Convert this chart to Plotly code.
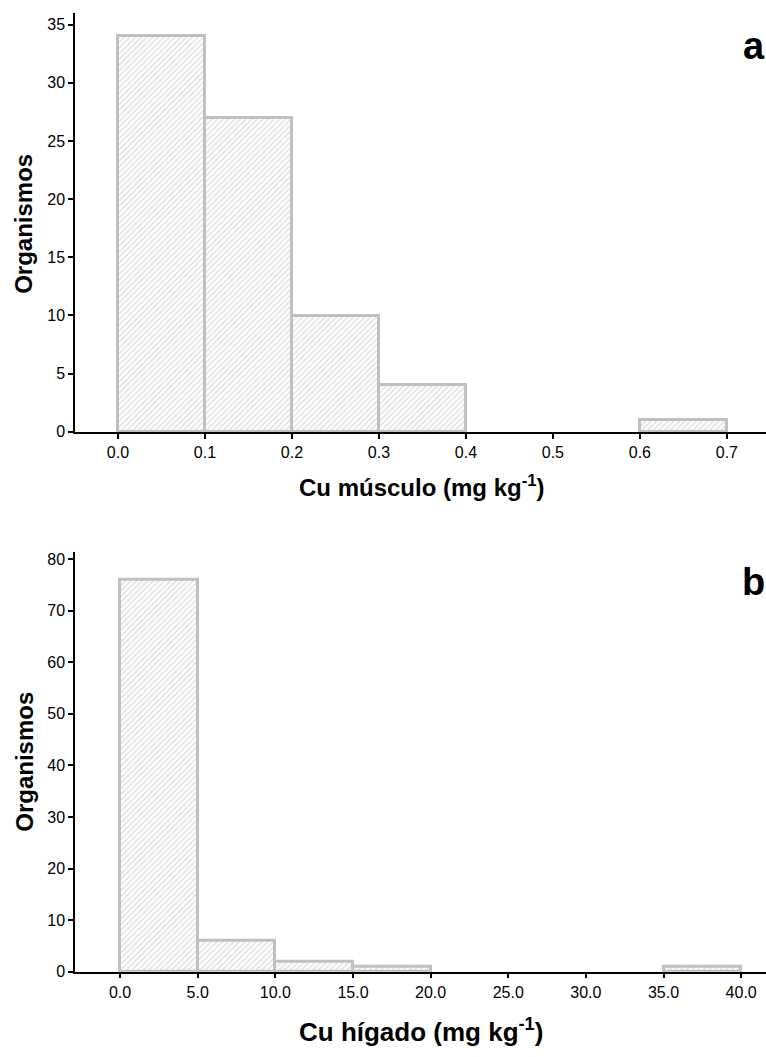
import plotly.graph_objects as go

# Panel a: Cu músculo
musc_bins = [0.0, 0.1, 0.2, 0.3, 0.4, 0.5, 0.6]
musc_counts = [34, 27, 10, 4, 0, 0, 1]
musc_width = 0.1
musc_ticks = [0.0, 0.1, 0.2, 0.3, 0.4, 0.5, 0.6, 0.7]

# Panel b: Cu hígado
hig_bins = [0, 5, 10, 15, 20, 25, 30, 35]
hig_counts = [76, 6, 2, 1, 0, 0, 0, 1]
hig_width = 5
hig_ticks = [0, 5, 10, 15, 20, 25, 30, 35, 40]

W, H = 766, 1057
FONT = "Liberation Sans, Arial, sans-serif"
fig = go.Figure()


def bar_marker(counts):
    return dict(color="white",
                line=dict(color="#c0c0c0", width=[3 if c > 0 else 0 for c in counts]),
                pattern=dict(shape="/", fgcolor="#bdbdbd", bgcolor="white", size=4, solidity=0.35))


fig.add_trace(go.Bar(x=[b + musc_width / 2 for b in musc_bins], y=musc_counts,
                     width=musc_width, xaxis="x", yaxis="y", marker=bar_marker(musc_counts),
                     showlegend=False, hoverinfo="skip"))
fig.add_trace(go.Bar(x=[b + hig_width / 2 for b in hig_bins], y=hig_counts,
                     width=hig_width, xaxis="x2", yaxis="y2", marker=bar_marker(hig_counts),
                     showlegend=False, hoverinfo="skip"))

ax_common = dict(showgrid=False, zeroline=False, showline=True, linecolor="black", linewidth=1.5,
                 ticks="outside", ticklen=5, tickwidth=1.5, tickcolor="black",
                 tickfont=dict(family=FONT, size=16, color="black"))

x0 = 75 / W
fig.update_layout(
    width=W, height=H, margin=dict(l=0, r=0, t=0, b=0),
    paper_bgcolor="white", plot_bgcolor="white", bargap=0,
    xaxis=dict(domain=[x0, 1], range=[-0.0494, 0.745], tickvals=musc_ticks,
               ticktext=[f"{v:.1f}" for v in musc_ticks], anchor="y", **ax_common),
    yaxis=dict(domain=[(H - 435) / H, (H - 12) / H], range=[0, 36.0],
               tickvals=[0, 5, 10, 15, 20, 25, 30, 35], anchor="x", **ax_common),
    xaxis2=dict(domain=[x0, 1], range=[-2.9, 41.6], tickvals=hig_ticks,
                ticktext=[f"{v:.1f}" for v in hig_ticks], anchor="y2", **ax_common),
    yaxis2=dict(domain=[(H - 980) / H, (H - 556) / H], range=[0, 81.4],
                tickvals=[0, 10, 20, 30, 40, 50, 60, 70, 80], anchor="x2", **ax_common),
)


def ann(text, x, y, size, angle=0, xanchor="center"):
    fig.add_annotation(text=text, x=x / W, y=1 - y / H, xref="paper", yref="paper",
                       showarrow=False, textangle=angle, xanchor=xanchor, yanchor="middle",
                       borderpad=0, font=dict(family=FONT, size=size, color="black"))


ann("<b>Organismos</b>", 24, 225, 24, -90)
ann("<b>Organismos</b>", 25, 768, 24, -90)
ann("<b>Cu músculo (mg kg<sup>-1</sup>)</b>", 422, 490, 24)
ann("<b>Cu hígado (mg kg<sup>-1</sup>)</b>", 421, 1039, 26)
ann("<b>a</b>", W, 45, 38, xanchor="right")
ann("<b>b</b>", W, 587, 38, xanchor="right")

fig.write_html("out.html")
